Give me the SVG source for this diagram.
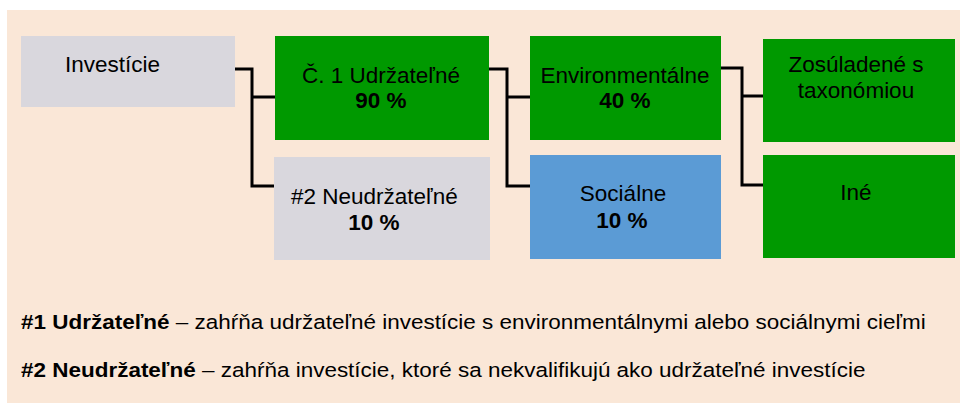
<svg xmlns="http://www.w3.org/2000/svg" width="968" height="405" viewBox="0 0 968 405">
<style>
text{font-family:"Liberation Sans",Arial,sans-serif;fill:#000}
.n{font-size:22.5px}
.b{font-size:22.5px;font-weight:bold}
.f{font-size:19.5px}
.grey{fill:#d9d7dd}
.green{fill:#009900}
.blue{fill:#5b9bd5}
.c{fill:none;stroke:#000;stroke-width:3}
</style>
<rect x="0" y="0" width="968" height="405" fill="#ffffff"/>
<rect x="7" y="10" width="953" height="393" fill="#fae7d7"/>
<g id="connectors">
<path class="c" d="M235 69H252V186H275M252 97H275"/>
<path class="c" d="M489 69H507V186H530M507 97H530"/>
<path class="c" d="M721 68H742V185H763M742 96H763"/>
</g>
<g id="investicie">
<rect class="grey" x="21" y="36" width="214" height="71"/>
<text class="n" x="65" y="72">Investície</text>
</g>
<g id="udrzatelne">
<rect class="green" x="275" y="36" width="214" height="104"/>
<text class="n" x="381" y="83" text-anchor="middle">Č. 1 Udržateľné</text>
<text class="b" x="381" y="108" text-anchor="middle">90 %</text>
</g>
<g id="neudrzatelne">
<rect class="grey" x="274" y="157" width="216" height="103"/>
<text class="n" x="291" y="204">#2 Neudržateľné</text>
<text class="b" x="374" y="230" text-anchor="middle">10 %</text>
</g>
<g id="environmentalne">
<rect class="green" x="530" y="36" width="191" height="104"/>
<text class="n" x="625" y="83" text-anchor="middle">Environmentálne</text>
<text class="b" x="625" y="108" text-anchor="middle">40 %</text>
</g>
<g id="socialne">
<rect class="blue" x="530" y="155" width="191" height="104"/>
<text class="n" x="623" y="201" text-anchor="middle">Sociálne</text>
<text class="b" x="622" y="228" text-anchor="middle">10 %</text>
</g>
<g id="zosuladene">
<rect class="green" x="763" y="39" width="192" height="103"/>
<text class="n" x="856" y="72" text-anchor="middle">Zosúladené s</text>
<text class="n" x="856" y="98" text-anchor="middle">taxonómiou</text>
</g>
<g id="ine">
<rect class="green" x="763" y="155" width="192" height="103"/>
<text class="n" x="856" y="200" text-anchor="middle">Iné</text>
</g>
<g id="legend">
<text class="f" transform="matrix(1.153 0 0 1 21 329)"><tspan font-weight="bold">#1 Udržateľné</tspan> – zahŕňa udržateľné investície s environmentálnymi alebo sociálnymi cieľmi</text>
<text class="f" transform="matrix(1.153 0 0 1 21 377)"><tspan font-weight="bold">#2 Neudržateľné</tspan> – zahŕňa investície, ktoré sa nekvalifikujú ako udržateľné investície</text>
</g>
</svg>
